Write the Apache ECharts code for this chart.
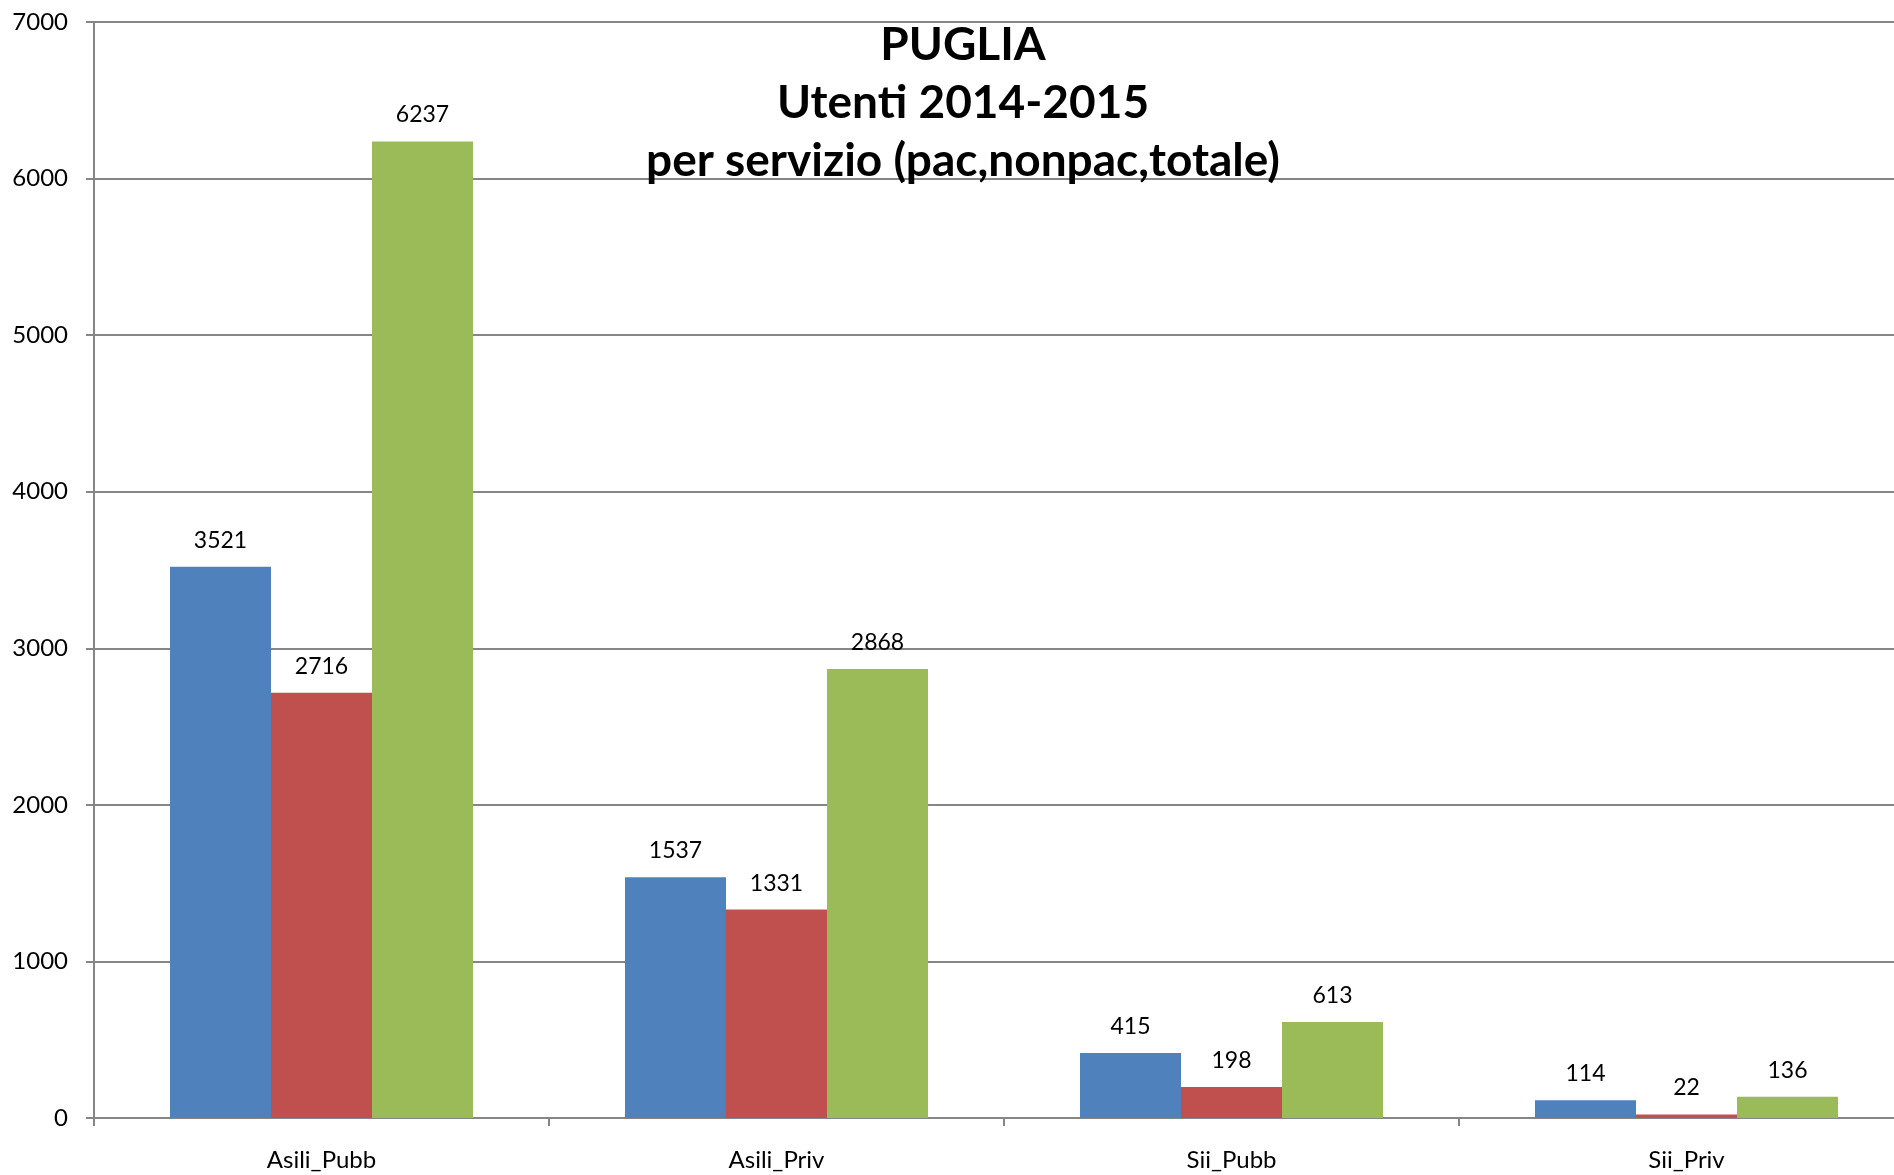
<!DOCTYPE html>
<html>
<head>
<meta charset="utf-8">
<script src="https://cdn.jsdelivr.net/npm/echarts@6/dist/echarts.min.js"></script>
<style>
  html, body { margin: 0; padding: 0; background: #fff; }
  #main { width: 1894px; height: 1175px; }
</style>
</head>
<body>
<div id="main"></div>
<script>
const categories = ['Asili_Pubb', 'Asili_Priv', 'Sii_Pubb', 'Sii_Priv'];
const pac = [3521, 1537, 415, 114];
const nonpac = [2716, 1331, 198, 22];
const totale = [6237, 2868, 613, 136];
const seriesNames = ['pac', 'nonpac', 'totale'];
const colorList = ['#4F81BD', '#C0504D', '#9BBB59'];

let chart = echarts.init(document.getElementById('main'));
const font = 'Lato, "Open Sans", sans-serif';

const labelStyle = {
    show: true,
    position: 'top',
    distance: 15,
    color: '#000',
    fontSize: 23,
    fontFamily: font
};

let option = {
    backgroundColor: '#fff',
    animation: false,
    title: {
        text: 'PUGLIA\nUtenti 2014-2015\nper servizio (pac,nonpac,totale)',
        left: 958,
        textAlign: 'center',
        top: 11,
        textStyle: {
            color: '#000',
            fontSize: 46,
            fontWeight: 'bold',
            fontFamily: font,
            lineHeight: 58
        }
    },
    grid: {
        left: 94,
        width: 1820,
        top: 22,
        bottom: 57,
        containLabel: false,
        outerBoundsMode: 'none'
    },
    xAxis: {
        type: 'category',
        data: categories,
        axisLine: { lineStyle: { color: '#868686', width: 2 } },
        axisTick: { show: true, length: 8, lineStyle: { color: '#868686', width: 2 } },
        axisLabel: { color: '#000', fontSize: 24, fontFamily: font, margin: 30 },
        splitLine: { show: false }
    },
    yAxis: {
        type: 'value',
        min: 0,
        max: 7000,
        interval: 1000,
        axisLine: { show: true, lineStyle: { color: '#868686', width: 2 } },
        axisTick: { show: true, length: 8, lineStyle: { color: '#868686', width: 2 } },
        axisLabel: {
            color: '#000',
            fontSize: 24,
            fontFamily: font,
            margin: 26,
            formatter: function (v) { return String(v); }
        },
        splitLine: { show: true, lineStyle: { color: '#868686', width: 2 } }
    },
    series: [
        { name: seriesNames[0], type: 'bar', data: pac },
        { name: seriesNames[1], type: 'bar', data: nonpac },
        { name: seriesNames[2], type: 'bar', data: totale }
    ].map(function (s, i) {
        s.itemStyle = { color: colorList[i] };
        s.label = labelStyle;
        s.barGap = '0%';
        s.barCategoryGap = '33.4%';
        return s;
    })
};

chart.setOption(option);

window.onresize = function () {
    chart.resize();
};
</script>
</body>
</html>
